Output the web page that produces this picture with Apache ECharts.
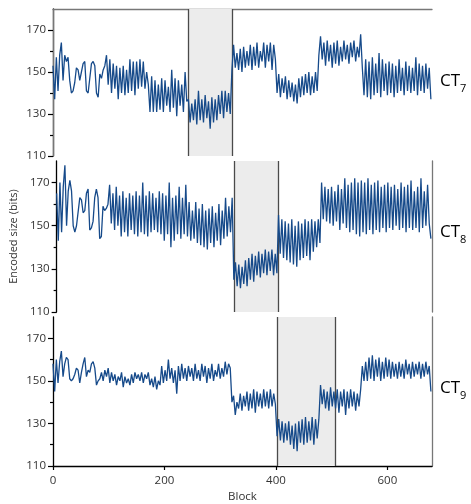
<!DOCTYPE html>
<html>
<head>
<meta charset="utf-8">
<script src="https://cdn.jsdelivr.net/npm/echarts@6/dist/echarts.min.js"></script>
<style>html,body{margin:0;padding:0;background:#fff;}#c{width:471px;height:504px;}</style>
</head>
<body>
<div id="c"></div>
<script>
// Sampling step in blocks between successive values
var STEP = 3;
var xTicks = [0, 200, 400, 600];
var yTickLabels = [110, 130, 150, 170];
var yMinorTicks = [120, 140, 160];
var panelNames = ['7', '8', '9'];
// shaded windows (block ranges) per panel
var shade7 = [243, 322];
var shade8 = [322, 402];
var shade9 = [402, 507];

var ct7 = [153,137,157,141,158,164,146,158,155,157,146,140,141,145,152,151,146,150,154,155,
141,140,147,154,155,153,140,138,149,147,151,153,158,144,156,140,154,142,153,137,
152,140,153,139,151,140,156,141,155,139,155,142,156,143,155,142,150,144,131,148,
131,146,131,144,132,147,131,146,134,143,131,151,133,147,129,146,134,144,131,150,
136,137,126,135,127,137,125,141,127,137,126,139,128,136,123,138,126,137,127,139,
130,141,128,141,131,140,130,151,163,152,159,151,161,150,162,152,160,153,163,151,
162,153,164,152,160,155,164,152,163,155,164,151,163,156,140,149,138,147,140,148,
137,146,138,145,136,144,135,147,138,148,139,149,140,150,139,148,140,150,141,158,
167,156,164,153,165,155,163,152,164,154,165,153,162,155,165,156,163,154,164,157,
165,155,162,157,168,152,139,156,138,155,137,157,139,154,140,159,138,156,141,154,
139,155,140,154,138,153,140,156,141,152,139,155,141,153,140,152,141,157,139,154,
141,153,140,154,142,152,137];

var ct8 = [165,143,170,147,168,178,150,166,171,166,150,147,150,150,163,162,156,157,165,167,
148,149,152,163,167,163,144,145,159,157,158,160,169,151,165,148,168,150,164,145,
166,147,163,145,165,148,164,146,166,145,164,147,170,146,164,145,166,147,165,148,
163,147,166,146,165,143,164,146,170,140,163,143,164,146,168,144,163,146,169,145,
161,143,157,144,161,142,158,141,160,140,157,139,158,142,159,140,156,143,160,141,
157,144,163,145,159,147,163,125,133,122,132,121,131,123,134,122,135,125,137,124,
136,127,138,126,137,128,139,127,138,129,139,127,137,128,155,137,153,135,152,134,
151,133,153,132,150,131,152,134,151,135,153,136,152,134,153,138,152,140,153,142,
170,153,168,152,167,151,168,150,166,152,169,148,167,151,172,149,169,147,170,148,
172,146,170,145,171,147,170,146,172,148,169,146,170,148,171,147,168,149,169,147,
170,149,168,148,169,150,167,148,170,149,168,147,169,149,171,148,166,149,168,147,
172,149,166,150,169,151,144];

var ct9 = [158,145,160,149,159,164,152,158,161,160,151,150,151,153,156,155,149,154,158,161,
152,155,154,158,159,156,148,150,151,154,150,155,152,156,149,154,150,153,148,152,
150,154,147,152,149,151,148,153,149,154,151,153,150,154,149,153,151,154,148,151,
147,152,146,150,148,157,149,155,150,160,151,156,149,155,144,157,150,158,151,156,
150,157,152,156,150,158,151,155,150,158,152,157,149,156,151,158,150,155,152,158,
151,156,152,159,153,158,156,140,143,134,140,137,144,136,143,138,145,136,144,137,
146,135,145,138,144,137,146,138,145,137,146,138,144,139,124,132,122,131,121,130,
122,131,120,129,118,130,117,131,121,132,120,133,121,131,122,133,120,132,123,132,
148,139,146,137,145,136,147,138,145,137,146,135,145,138,146,134,145,137,146,138,
145,136,144,138,146,157,150,159,150,161,151,162,150,160,152,161,150,159,151,161,
152,160,151,159,152,158,151,159,152,158,151,160,153,158,151,159,152,158,153,159,
151,158,152,159,153,157,145];

function toPairs(arr) {
  return arr.map(function (v, i) { return [i * STEP, v]; });
}

var FONT = 'Open Sans';
var grids = [
  {left: 53, right: 39, top: 9, height: 147},
  {left: 53, right: 39, top: 161, height: 151},
  {left: 53, right: 39, top: 317, height: 150}
];

var xAxes = [], yAxes = [], series = [];
var seriesData = [ct7, ct8, ct9];
var shades = [shade7, shade8, shade9];

for (var g = 0; g < 3; g++) {
  var bottom = (g === 2);
  xAxes.push({
    type: 'value', gridIndex: g, min: 0, max: 680,
    show: bottom,
    name: bottom ? 'Block' : '',
    nameLocation: 'middle', nameGap: 25,
    nameTextStyle: {fontFamily: FONT, fontSize: 11.5, color: '#333'},
    axisLine: {show: true, lineStyle: {color: '#000', width: 1.3}},
    axisTick: {show: true, length: 4, customValues: xTicks, lineStyle: {color: '#000', width: 1.2}},
    axisLabel: {show: true, customValues: xTicks, fontFamily: FONT, fontSize: 11.5, color: '#333', margin: 9},
    splitLine: {show: false}
  });
  yAxes.push({
    type: 'value', gridIndex: g, min: 110, max: 180, position: 'left',
    name: g === 1 ? 'Encoded size (bits)' : '',
    nameLocation: 'middle', nameGap: 33,
    nameTextStyle: {fontFamily: FONT, fontSize: 11, color: '#333'},
    axisLine: {show: true, lineStyle: {color: '#000', width: 1.3}},
    axisTick: {show: true, length: 5, customValues: yTickLabels, lineStyle: {color: '#000', width: 1.2}},
    axisLabel: {show: true, customValues: yTickLabels, fontFamily: FONT, fontSize: 11.5, color: '#333', margin: 7},
    splitLine: {show: false}
  });
  var sh = shades[g];
  series.push({
    type: 'line', xAxisIndex: g, yAxisIndex: g,
    data: toPairs(seriesData[g]),
    showSymbol: false, symbol: 'none', animation: false,
    lineStyle: {color: '#164a8a', width: 1.3},
    z: 5,
    markArea: {
      silent: true,
      itemStyle: {color: '#ececec'},
      data: [[{xAxis: sh[0]}, {xAxis: sh[1]}]]
    },
    markLine: {
      silent: true, symbol: 'none', animation: false,
      label: {show: false},
      lineStyle: {color: '#4a4a4a', width: 1.3, type: 'solid'},
      data: [{xAxis: sh[0]}, {xAxis: sh[1]}]
    }
  });
}
// top border on first panel
xAxes.push({
  type: 'value', gridIndex: 0, min: 0, max: 680, position: 'top',
  axisLine: {show: true, lineStyle: {color: '#777', width: 1.3}},
  axisTick: {show: false}, axisLabel: {show: false}, splitLine: {show: false}
});
// right borders
for (var r = 0; r < 3; r++) {
  yAxes.push({
    type: 'value', gridIndex: r, min: 110, max: 180, position: 'right',
    axisLine: {show: true, lineStyle: {color: '#777', width: 1.3}},
    axisTick: {show: false}, axisLabel: {show: false}, splitLine: {show: false}
  });
}
// minor ticks (shorter) on the left
for (var m = 0; m < 3; m++) {
  yAxes.push({
    type: 'value', gridIndex: m, min: 110, max: 180, position: 'left', offset: 0,
    axisLine: {show: false},
    axisTick: {show: true, length: 3, customValues: yMinorTicks, lineStyle: {color: '#000', width: 1.2}},
    axisLabel: {show: false}, splitLine: {show: false}
  });
}

var labelY = [85, 236, 392];
var graphics = labelY.map(function (y, i) {
  return {
    type: 'text', left: 440, top: y - 12,
    style: {
      text: '{a|CT}{b|' + panelNames[i] + '}',
      rich: {
        a: {fontFamily: FONT, fontSize: 17, color: '#333', lineHeight: 24, verticalAlign: 'bottom'},
        b: {fontFamily: FONT, fontSize: 11, color: '#333', lineHeight: 24, verticalAlign: 'bottom', padding: [0, 0, -4, 0]}
      }
    }
  };
});

var chart = echarts.init(document.getElementById('c'), null, {renderer: 'canvas'});
chart.setOption({
  animation: false,
  grid: grids,
  xAxis: xAxes,
  yAxis: yAxes,
  series: series,
  graphic: graphics
});
</script>
</body>
</html>
